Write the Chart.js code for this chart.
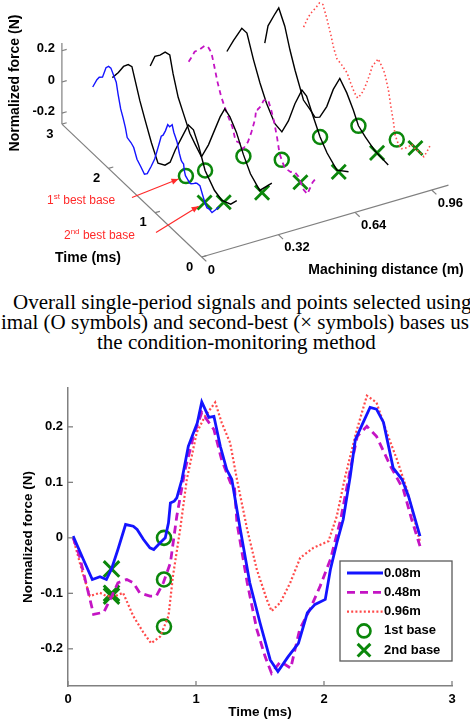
<!DOCTYPE html>
<html>
<head>
<meta charset="utf-8">
<script src="https://cdn.jsdelivr.net/npm/chart.js@4.4.0/dist/chart.umd.min.js"></script>
<style>
  html, body { margin: 0; padding: 0; background: #fff; }
  body { width: 470px; height: 720px; position: relative; overflow: hidden; }
  #top { position: absolute; left: 0; top: 0; width: 470px; height: 280px; }
  #bottom { position: absolute; left: 0; top: 360px; width: 470px; height: 360px; }
  .cap { position: absolute; white-space: nowrap; font-family: "Liberation Serif", "Times New Roman", serif; font-size: 21px; line-height: 20px; color: #000; }
</style>
</head>
<body>
<div id="top"><canvas id="chart3d"></canvas></div>
<div class="cap" style="left:13px; top:292px">Overall single-period signals and points selected using</div>
<div class="cap" style="left:1px; top:312px">imal (O symbols) and second-best (× symbols) bases us</div>
<div class="cap" style="left:97px; top:332px">the condition-monitoring method</div>
<div id="bottom"><canvas id="chart2d"></canvas></div>
<script>
// time (ms) / normalized force (N)
const tBlue = [0.04, 0.12, 0.19, 0.25, 0.30, 0.34, 0.39, 0.45, 0.51, 0.54, 0.59, 0.64, 0.67, 0.72, 0.76, 0.785, 0.80, 0.83, 0.85, 0.89, 0.94, 0.97, 1.01, 1.045, 1.10, 1.14, 1.19, 1.24, 1.28, 1.32, 1.35, 1.42, 1.50, 1.58, 1.64, 1.72, 1.80, 1.87, 1.93, 2.01, 2.05, 2.10, 2.15, 2.205, 2.245, 2.30, 2.36, 2.41, 2.465, 2.54, 2.61, 2.66, 2.75];
const fBlue = [0.003, -0.039, -0.075, -0.07, -0.075, -0.056, -0.021, 0.024, 0.021, 0.015, -0.003, -0.018, -0.021, -0.009, 0.0, 0.027, 0.063, 0.066, 0.072, 0.105, 0.165, 0.183, 0.207, 0.245, 0.217, 0.219, 0.165, 0.123, 0.105, 0.05, 0.01, -0.081, -0.153, -0.22, -0.241, -0.214, -0.19, -0.135, -0.12, -0.111, -0.057, -0.009, 0.033, 0.111, 0.177, 0.205, 0.235, 0.232, 0.208, 0.126, 0.105, 0.075, 0.003];

const tMag = [0.04, 0.09, 0.2, 0.28, 0.33, 0.39, 0.46, 0.51, 0.56, 0.64, 0.69, 0.745, 0.80, 0.85, 0.915, 0.98, 1.045, 1.14, 1.20, 1.27, 1.30, 1.32, 1.40, 1.475, 1.54, 1.59, 1.66, 1.74, 1.81, 1.89, 1.97, 2.05, 2.13, 2.205, 2.26, 2.335, 2.41, 2.52, 2.62, 2.685, 2.75];
const fMag = [0.0, -0.033, -0.138, -0.134, -0.111, -0.081, -0.075, -0.081, -0.099, -0.105, -0.105, -0.081, -0.045, 0.039, 0.123, 0.183, 0.226, 0.195, 0.141, 0.099, 0.093, 0.027, -0.081, -0.165, -0.214, -0.244, -0.223, -0.235, -0.165, -0.129, -0.087, -0.039, 0.033, 0.123, 0.183, 0.201, 0.183, 0.129, 0.087, 0.033, -0.015];

const tRed = [0.04, 0.11, 0.17, 0.25, 0.30, 0.37, 0.43, 0.51, 0.59, 0.65, 0.72, 0.785, 0.82, 0.876, 0.928, 1.006, 1.07, 1.15, 1.20, 1.267, 1.32, 1.40, 1.475, 1.553, 1.59, 1.658, 1.736, 1.814, 1.918, 2.035, 2.10, 2.166, 2.257, 2.335, 2.41, 2.49, 2.57, 2.648, 2.752];
const fRed = [0.0, -0.06, -0.105, -0.099, -0.105, -0.105, -0.099, -0.141, -0.171, -0.19, -0.178, -0.141, -0.069, 0.015, 0.105, 0.19, 0.219, 0.244, 0.208, 0.171, 0.105, 0.015, -0.057, -0.111, -0.132, -0.117, -0.081, -0.036, -0.018, -0.006, 0.039, 0.111, 0.195, 0.256, 0.244, 0.19, 0.141, 0.087, -0.009];

// black curves of the 3D view
const t016 = [0.07, 0.2, 0.39, 0.55, 0.75, 0.89, 1.0, 1.11, 1.25, 1.39, 1.5, 1.61, 1.76, 1.9, 2.04, 2.15, 2.25, 2.32, 2.4, 2.5, 2.61, 2.74];
const f016 = [0.0, -0.06, -0.09, -0.07, 0.0, 0.12, 0.19, 0.19, 0.07, -0.05, -0.16, -0.21, -0.24, -0.15, -0.04, 0.05, 0.15, 0.22, 0.21, 0.17, 0.10, 0.03];
const t032 = [0.14, 0.4, 0.6, 0.75, 0.9, 1.04, 1.15, 1.25, 1.4, 1.5, 1.65, 1.78, 1.9, 2.04, 2.15, 2.26, 2.33, 2.43, 2.54, 2.65, 2.75];
const f032 = [0.02, -0.10, -0.05, 0.03, 0.13, 0.19, 0.21, 0.13, -0.02, -0.12, -0.24, -0.2, -0.16, -0.07, 0.0, 0.12, 0.22, 0.21, 0.16, 0.12, 0.03];
const t064 = [0.14, 0.39, 0.6, 0.75, 0.9, 1.04, 1.14, 1.29, 1.43, 1.57, 1.72, 1.9, 2.04, 2.18, 2.32, 2.43, 2.61, 2.75];
const f064 = [-0.05, -0.11, -0.06, 0.0, 0.09, 0.18, 0.19, 0.06, -0.09, -0.2, -0.19, -0.11, -0.02, 0.09, 0.22, 0.22, 0.09, -0.02];
const t080 = [0.11, 0.4, 0.6, 0.75, 0.86, 1.0, 1.15, 1.29, 1.43, 1.58, 1.68, 1.79, 1.93, 2.11, 2.22, 2.33, 2.46, 2.54, 2.69, 2.76];
const f080 = [-0.07, -0.06, -0.03, 0.0, 0.07, 0.14, 0.19, 0.08, -0.07, -0.18, -0.21, -0.19, -0.17, -0.03, 0.07, 0.19, 0.27, 0.21, 0.09, -0.04];

// machining distances (m) of the seven signals
const distances = [0.08, 0.16, 0.32, 0.48, 0.64, 0.80, 0.96];

// selected bases
const base1Time = 0.75;
const base2Time = 0.35;
const base1Force3d = [0.0, 0.0, 0.02, -0.075, 0.0, 0.0, -0.16];
const base2Force3d = [-0.056, -0.09, -0.10, -0.105, -0.11, -0.06, -0.10];
const base1Force = [0.0, -0.075, -0.16];   // 0.08m, 0.48m, 0.96m
const base2Force = [-0.056, -0.105, -0.10];

// ticks
const timeTicks = [0, 1, 2, 3];
const distTicks = [0, 0.32, 0.64, 0.96];
const forceTicks3d = [0.2, 0, -0.2];
const forceTicks = [-0.2, -0.1, 0, 0.1, 0.2];
const legendLabels = ['0.08m', '0.48m', '0.96m', '1st base', '2nd base'];

const BLUE = '#1414ff';
const MAGENTA = '#c414c4';
const RED = '#ff4a4a';
const GREEN = '#0b870b';
const AXIS = '#808080';
const SANS = '"Liberation Sans", Arial, sans-serif';

Chart.defaults.font.family = SANS;

//3D view: oblique projection onto the page plane
const F_MIN = -0.27, F_MAX = 0.25, D_MAX = 1.03, T_MAX = 3;
function proj(d, t, f) {
    return {
        x: 201.7 + 239.6 * d - 46.6 * t,
        y: 257 - 69.8 * d - 44.3 * t - 156 * (f - F_MIN)
    };
}

const curves3d = [
    { d: distances[0], t: tBlue, f: fBlue, color: BLUE, width: 1.4, dash: [] },
    { d: distances[1], t: t016, f: f016, color: '#000', width: 1.4, dash: [] },
    { d: distances[2], t: t032, f: f032, color: '#000', width: 1.4, dash: [] },
    { d: distances[3], t: tMag, f: fMag, color: MAGENTA, width: 1.8, dash: [5, 4] },
    { d: distances[4], t: t064, f: f064, color: '#000', width: 1.4, dash: [] },
    { d: distances[5], t: t080, f: f080, color: '#000', width: 1.4, dash: [] },
    { d: distances[6], t: tRed, f: fRed, color: RED, width: 1.6, dash: [1.5, 2.5] }
];

function seg(ctx, a, b) {
    ctx.beginPath();
    ctx.moveTo(a[0], a[1]);
    ctx.lineTo(b[0], b[1]);
    ctx.stroke();
}

function arrow(ctx, from, to) {
    seg(ctx, from, to);
    const ang = Math.atan2(to[1] - from[1], to[0] - from[0]);
    const L = 7, W = 3;
    ctx.beginPath();
    ctx.moveTo(to[0], to[1]);
    ctx.lineTo(to[0] - L * Math.cos(ang) + W * Math.sin(ang), to[1] - L * Math.sin(ang) - W * Math.cos(ang));
    ctx.lineTo(to[0] - L * Math.cos(ang) - W * Math.sin(ang), to[1] - L * Math.sin(ang) + W * Math.cos(ang));
    ctx.closePath();
    ctx.fill();
}

function supText(ctx, x, y, main, sup, rest) {
    ctx.textAlign = 'left';
    ctx.textBaseline = 'alphabetic';
    ctx.font = '12px ' + SANS;
    ctx.fillText(main, x, y);
    x += ctx.measureText(main).width;
    ctx.font = '8px ' + SANS;
    ctx.fillText(sup, x, y - 5);
    x += ctx.measureText(sup).width;
    ctx.font = '12px ' + SANS;
    ctx.fillText(rest, x, y);
}

//осі, підписи і стрілки тривимірного графіка
const frame3d = {
    id: 'frame3d',
    beforeDatasetsDraw(chart) {
        const { ctx, scales: { x, y } } = chart;
        const P = (d, t, f) => { const p = proj(d, t, f); return [x.getPixelForValue(p.x), y.getPixelForValue(p.y)]; };
        ctx.save();
        ctx.strokeStyle = AXIS;
        ctx.lineWidth = 1.2;
        seg(ctx, P(0, T_MAX, F_MIN), P(0, T_MAX, F_MAX));
        seg(ctx, P(0, 0, F_MIN), P(0, T_MAX, F_MIN));
        seg(ctx, P(0, 0, F_MIN), P(D_MAX, 0, F_MIN));

        ctx.fillStyle = '#000';
        ctx.font = 'bold 13px ' + SANS;
        ctx.textBaseline = 'middle';

        ctx.textAlign = 'right';
        forceTicks3d.forEach(f => {
            seg(ctx, P(0, T_MAX, f), P(0.02, T_MAX, f));
            ctx.fillText(f === 0 ? '0' : f.toFixed(1), P(0, T_MAX, f)[0] - 7, P(0, T_MAX, f)[1] - 2);
        });
        ctx.textAlign = 'center';
        timeTicks.forEach(t => {
            const p = P(0, t, F_MIN);
            seg(ctx, p, P(0.02, t, F_MIN));
            ctx.fillText(String(t), p[0] - 12, p[1] + 10);
        });
        ctx.textAlign = 'left';
        distTicks.forEach(d => {
            const p = P(d, 0, F_MIN);
            seg(ctx, p, P(d, -0.1, F_MIN));
            ctx.fillText(d === 0 ? '0' : d.toFixed(2), p[0] + 6, p[1] + 13);
        });

        ctx.font = 'bold 14px ' + SANS;
        ctx.textAlign = 'center';
        ctx.fillText('Time (ms)', 88, 258);
        ctx.fillText('Machining distance (m)', 386, 270);
        ctx.save();
        ctx.translate(15, 83);
        ctx.rotate(-Math.PI / 2);
        ctx.fillText('Normalized force (N)', 0, 0);
        ctx.restore();
        ctx.restore();
    },
    afterDatasetsDraw(chart) {
        const { ctx, scales: { x, y } } = chart;
        const P = (d, t, f) => { const p = proj(d, t, f); return [x.getPixelForValue(p.x), y.getPixelForValue(p.y)]; };
        ctx.save();
        ctx.fillStyle = '#ff2a2a';
        ctx.strokeStyle = '#ff2a2a';
        ctx.lineWidth = 1.2;
        supText(ctx, 47, 203.5, '1', 'st', ' best base');
        supText(ctx, 64, 238.5, '2', 'nd', ' best base');
        const stopShort = (from, c, gap) => {
            const dx = c[0] - from[0], dy = c[1] - from[1], l = Math.hypot(dx, dy);
            return [c[0] - dx / l * gap, c[1] - dy / l * gap];
        };
        const tail1 = [132, 197.5], tail2 = [156, 232.5];
        arrow(ctx, tail1, stopShort(tail1, P(distances[0], base1Time, base1Force3d[0]), 8));
        arrow(ctx, tail2, stopShort(tail2, P(distances[0], base2Time, base2Force3d[0]), 7));
        ctx.restore();
    }
};

const ds3d = curves3d.map(c => ({
    data: c.t.map((t, i) => proj(c.d, t, c.f[i])),
    showLine: true,
    pointRadius: 0,
    borderColor: c.color,
    borderWidth: c.width,
    borderDash: c.dash,
    tension: 0
}));
ds3d.push({
    data: distances.map((d, i) => proj(d, base1Time, base1Force3d[i])),
    pointStyle: 'circle', pointRadius: 7, borderWidth: 2.5,
    borderColor: GREEN, backgroundColor: 'rgba(0,0,0,0)'
});
ds3d.push({
    data: distances.map((d, i) => proj(d, base2Time, base2Force3d[i])),
    pointStyle: 'crossRot', pointRadius: 10, borderWidth: 2.8,
    borderColor: GREEN
});

new Chart(document.getElementById('chart3d'), {
    type: 'scatter',
    data: { datasets: ds3d },
    options: {
        responsive: true,
        maintainAspectRatio: false,
        animation: false,
        events: [],
        layout: { padding: 0, autoPadding: false },
        scales: {
            x: { display: false, min: 0, max: 470 },
            y: { display: false, min: 0, max: 280, reverse: true }
        },
        plugins: { legend: { display: false }, tooltip: { enabled: false } }
    },
    plugins: [frame3d]
});

//2D plot
const xy = (ts, fs) => ts.map((t, i) => ({ x: t, y: fs[i] }));

const innerTicks = {
    id: 'innerTicks',
    afterDraw(chart) {
        const { ctx, chartArea: a, scales: { x, y } } = chart;
        ctx.save();
        ctx.strokeStyle = AXIS;
        ctx.lineWidth = 1.3;
        timeTicks.forEach(v => seg(ctx, [x.getPixelForValue(v), a.bottom], [x.getPixelForValue(v), a.bottom - 5]));
        forceTicks.forEach(v => seg(ctx, [a.left, y.getPixelForValue(v)], [a.left + 5, y.getPixelForValue(v)]));
        ctx.restore();
    }
};

const boxLegend = {
    id: 'boxLegend',
    afterDraw(chart) {
        const { ctx, chartArea: a } = chart;
        const ds = chart.data.datasets;
        const left = a.right - 112, top = a.bottom - 125, w = 112, h = 100;
        ctx.save();
        ctx.fillStyle = '#fff';
        ctx.fillRect(left, top, w, h);
        ctx.strokeStyle = '#5a5a5a';
        ctx.lineWidth = 1.3;
        ctx.strokeRect(left, top, w, h);
        ctx.font = 'bold 13px ' + SANS;
        ctx.textBaseline = 'middle';
        ctx.textAlign = 'left';
        legendLabels.forEach((lab, i) => {
            const cy = top + 12 + i * 19.3;
            const d = ds[i];
            ctx.strokeStyle = d.borderColor;
            ctx.lineWidth = d.borderWidth;
            if (i < 3) {
                ctx.setLineDash(d.borderDash || []);
                seg(ctx, [left + 7, cy], [left + 43, cy]);
                ctx.setLineDash([]);
            } else {
                ctx.fillStyle = 'rgba(0,0,0,0)';
                Chart.helpers.drawPoint(ctx, { pointStyle: d.pointStyle, radius: i === 3 ? 6.5 : 9, borderWidth: d.borderWidth }, left + 24, cy);
            }
            ctx.fillStyle = '#000';
            ctx.fillText(lab, left + 44, cy);
        });
        ctx.restore();
    }
};

new Chart(document.getElementById('chart2d'), {
    type: 'scatter',
    data: {
        datasets: [
            { data: xy(tBlue, fBlue), showLine: true, pointRadius: 0, borderColor: BLUE, borderWidth: 2.8, tension: 0 },
            { data: xy(tMag, fMag), showLine: true, pointRadius: 0, borderColor: MAGENTA, borderWidth: 2.8, borderDash: [8, 5], tension: 0 },
            { data: xy(tRed, fRed), showLine: true, pointRadius: 0, borderColor: RED, borderWidth: 2.2, borderDash: [2, 2.2], tension: 0 },
            {
                data: [tBlue, tMag, tRed].map((_, i) => ({ x: base1Time, y: base1Force[i] })),
                pointStyle: 'circle', pointRadius: 7, borderWidth: 2.6,
                borderColor: GREEN, backgroundColor: 'rgba(0,0,0,0)'
            },
            {
                data: [tBlue, tMag, tRed].map((_, i) => ({ x: base2Time - 0.01, y: base2Force[i] })),
                pointStyle: 'crossRot', pointRadius: 11, borderWidth: 3,
                borderColor: GREEN
            }
        ]
    },
    options: {
        responsive: true,
        maintainAspectRatio: false,
        animation: false,
        events: [],
        layout: { padding: { top: 28, right: 18, left: 0, bottom: 0 }, autoPadding: false },
        scales: {
            x: {
                min: 0, max: 3,
                afterBuildTicks: s => { s.ticks = timeTicks.map(v => ({ value: v })); },
                afterFit: s => { s.height = 34; },
                grid: { display: false, drawTicks: false },
                border: { display: true, color: AXIS, width: 1.5 },
                ticks: { color: '#000', padding: 6, maxRotation: 0, font: { size: 13, weight: 'bold' } },
                title: { display: true, text: 'Time (ms)', color: '#000', padding: { top: 0, bottom: 0 }, font: { size: 13.5, weight: 'bold' } }
            },
            y: {
                min: -0.267, max: 0.27,
                afterBuildTicks: s => { s.ticks = forceTicks.map(v => ({ value: v })); },
                afterFit: s => { s.width = 68; },
                grid: { display: false, drawTicks: false },
                border: { display: true, color: AXIS, width: 1.5 },
                ticks: { color: '#000', padding: 5, font: { size: 13, weight: 'bold' }, callback: v => v === 0 ? '0' : v.toFixed(1) },
                title: { display: true, text: 'Normalized force (N)', color: '#000', padding: { top: 20, bottom: 0 }, font: { size: 13.5, weight: 'bold' } }
            }
        },
        plugins: { legend: { display: false }, tooltip: { enabled: false } }
    },
    plugins: [innerTicks, boxLegend]
});
</script>
</body>
</html>
